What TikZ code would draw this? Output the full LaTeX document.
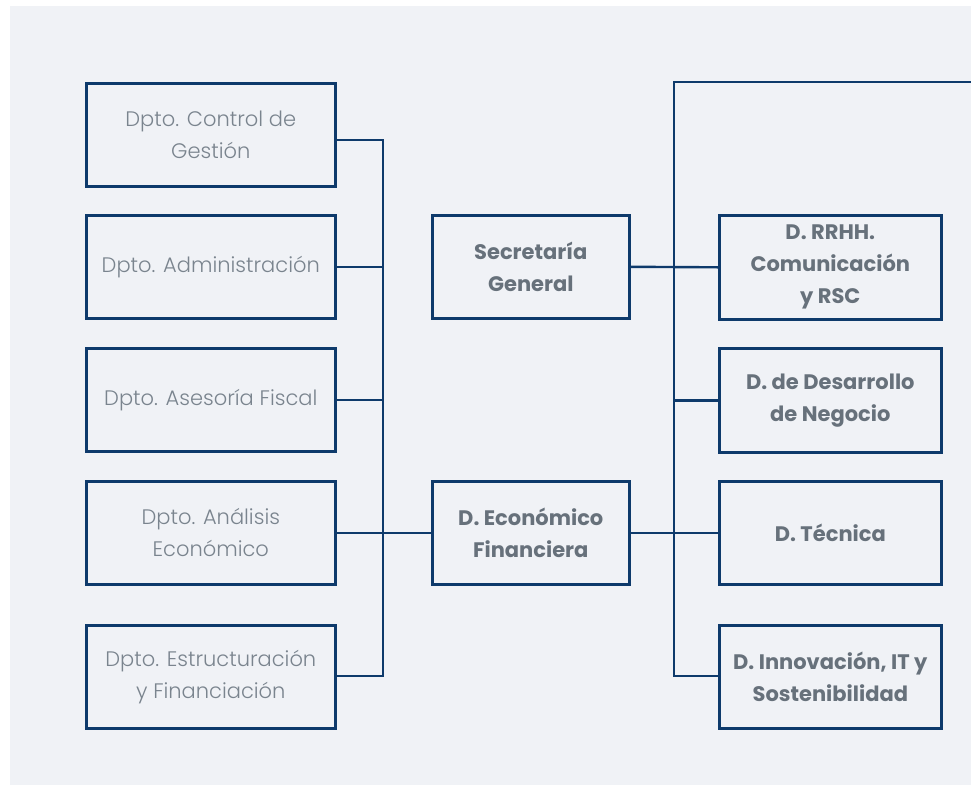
\documentclass[tikz,border=0pt]{standalone}
\usepackage{fontspec}
\setmainfont{Poppins}
\newfontfamily\lightfont{Poppins Light}
\definecolor{navy}{HTML}{0E3A6B}
\definecolor{panel}{HTML}{F0F2F6}
\definecolor{lighttext}{HTML}{7A848E}
\definecolor{boldtext}{HTML}{67717B}
\begin{document}
\begin{tikzpicture}[x=1pt,y=-1pt,
  box/.style={draw=navy,line width=2.6pt,fill=panel,anchor=north west,inner sep=0pt,align=center},
  dept/.style={box,minimum width=249pt,minimum height=103pt,text=lighttext,font=\lightfont\fontsize{21}{32}\selectfont},
  dir/.style={box,text=boldtext,font=\bfseries\fontsize{21}{32}\selectfont},
  link/.style={draw=navy,line width=2.4pt}]
\useasboundingbox (0,0) rectangle (971,785);
\fill[white] (0,0) rectangle (971,785);
\fill[panel] (10,6) rectangle (971,785);
% left departments
\node[dept] (a1) at (85,82) {Dpto. Control de\\Gestión};
\node[dept] (a2) at (85,214) {Dpto. Administración};
\node[dept] (a3) at (85,347) {Dpto. Asesoría Fiscal};
\node[dept] (a4) at (85,480) {Dpto. Análisis\\Económico};
\node[dept] (a5) at (85,624) {Dpto. Estructuración\\y Financiación};
% middle
\node[dir,minimum width=197pt,minimum height=103pt] (sg) at (431,214) {Secretaría\\General};
\node[dir,minimum width=197pt,minimum height=103pt] (ef) at (431,480) {D. Económico\\Financiera};
% right
\node[dir,minimum width=222pt,minimum height=104pt] (r1) at (718,214) {D. RRHH.\\Comunicación\\y RSC};
\node[dir,minimum width=222pt,minimum height=104pt] (r2) at (718,347) {D. de Desarrollo\\de Negocio};
\node[dir,minimum width=222pt,minimum height=103pt] (r3) at (718,480) {D. Técnica};
\node[dir,minimum width=222pt,minimum height=103pt] (r4) at (718,624) {D. Innovación, IT y\\Sostenibilidad};
% left bus
\coordinate (lt) at (383,140);
\coordinate (lb) at (383,676);
\draw[link] (a1.east |- lt) -- (lt) -- (lb) -- (a5.east |- lb);
\draw[link] (a2.east) -- (a2.east -| lt);
\draw[link] (a3.east) -- (a3.east -| lt);
\draw[link] (a4.east) -- (ef.west);
% right bus
\coordinate (rt) at (674,82);
\coordinate (re) at (971,82);
\coordinate (rb) at (674,676);
\draw[link] (re) -- (rt) -- (rb) -- (r4.west |- rb);
\draw[link] (sg.east) -- (r1.west);
\draw[link] (r2.west) -- (r2.west -| rt);
\draw[link] (ef.east) -- (r3.west);
\end{tikzpicture}
\end{document}
